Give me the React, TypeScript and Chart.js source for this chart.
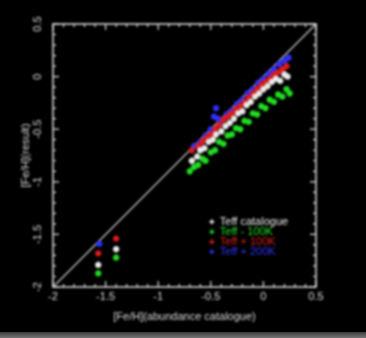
import React, { useEffect, useRef } from "react";
import { Chart, registerables } from "chart.js";

Chart.register(...registerables);

const axisTicks = [-2, -1.5, -1, -0.5, 0, 0.5];
const seriesLabels = ["Teff catalogue", "Teff - 100K", "Teff + 100K", "Teff + 200K"];
const seriesColors = ["#ececec", "#22dd22", "#dd1c1c", "#3030ff"];

const catalogueX = [-1.57, -1.40, -0.68, -0.63, -0.60, -0.56, -0.52, -0.48, -0.45, -0.40, -0.36, -0.32, -0.28, -0.24, -0.20, -0.16, -0.12, -0.08, -0.04, 0.00, 0.04, 0.08, 0.12, 0.16, 0.20, 0.23];
const catalogueY = [-1.79, -1.64, -0.80, -0.76, -0.70, -0.68, -0.62, -0.60, -0.55, -0.52, -0.47, -0.44, -0.40, -0.35, -0.33, -0.27, -0.24, -0.19, -0.16, -0.12, -0.09, -0.05, -0.02, -0.04, 0.02, 0.00];

const minus100X = [-1.57, -1.40, -0.70, -0.66, -0.62, -0.58, -0.55, -0.50, -0.46, -0.42, -0.38, -0.34, -0.30, -0.26, -0.22, -0.18, -0.14, -0.10, -0.06, -0.02, 0.02, 0.06, 0.10, 0.14, 0.18, 0.22, 0.25];
const minus100Y = [-1.87, -1.72, -0.90, -0.86, -0.84, -0.78, -0.80, -0.72, -0.70, -0.62, -0.64, -0.56, -0.55, -0.49, -0.50, -0.42, -0.43, -0.35, -0.36, -0.28, -0.30, -0.22, -0.24, -0.17, -0.19, -0.12, -0.16];

const plus100X = [-1.57, -1.40, -0.68, -0.62, -0.58, -0.54, -0.50, -0.46, -0.42, -0.38, -0.34, -0.30, -0.26, -0.22, -0.18, -0.14, -0.10, -0.06, -0.02, 0.02, 0.06, 0.10, 0.14, 0.18, 0.22];
const plus100Y = [-1.68, -1.54, -0.70, -0.66, -0.62, -0.58, -0.55, -0.50, -0.46, -0.41, -0.38, -0.35, -0.31, -0.28, -0.24, -0.20, -0.16, -0.12, -0.08, -0.05, -0.02, 0.02, 0.04, 0.07, 0.10];

const plus200X = [-1.56, -0.66, -0.60, -0.55, -0.50, -0.47, -0.45, -0.43, -0.40, -0.35, -0.30, -0.25, -0.20, -0.15, -0.10, -0.05, 0.00, 0.05, 0.10, 0.15, 0.20, 0.24];
const plus200Y = [-1.59, -0.66, -0.62, -0.56, -0.50, -0.38, -0.30, -0.40, -0.42, -0.36, -0.32, -0.26, -0.22, -0.16, -0.12, -0.06, -0.02, 0.03, 0.07, 0.12, 0.15, 0.18];

const diagonalX = [-2, 0.5];
const diagonalY = [-2, 0.5];

const FONT = "'Liberation Sans', Arial, sans-serif";
const toPoints = (xs: number[], ys: number[]) => xs.map((x, i) => ({ x, y: ys[i] }));

const framePlugin = {
  id: "frame",
  afterDraw(chart: any) {
    const { ctx, chartArea: a, scales } = chart;
    const xs = scales.x;
    const ys = scales.y;
    ctx.save();
    ctx.strokeStyle = "#dddddd";
    ctx.lineWidth = 1.5;
    ctx.strokeRect(a.left, a.top, a.right - a.left, a.bottom - a.top);
    ctx.lineWidth = 1.2;
    for (let i = 0; i <= 25; i++) {
      const v = -2 + i * 0.1;
      const major = i % 5 === 0;
      const len = major ? 6 : 3;
      const px = xs.getPixelForValue(v);
      const py = ys.getPixelForValue(v);
      ctx.beginPath();
      ctx.moveTo(px, a.bottom);
      ctx.lineTo(px, a.bottom - len);
      ctx.moveTo(px, a.top);
      ctx.lineTo(px, a.top + len);
      ctx.moveTo(a.left, py);
      ctx.lineTo(a.left + len, py);
      ctx.moveTo(a.right, py);
      ctx.lineTo(a.right - len, py);
      ctx.stroke();
    }
    ctx.font = "11px " + FONT;
    ctx.textBaseline = "middle";
    ctx.textAlign = "left";
    const lx = xs.getPixelForValue(-0.49);
    const ly0 = ys.getPixelForValue(-1.38);
    chart.data.datasets.slice(0, 4).forEach((ds: any, i: number) => {
      const y = ly0 + i * 10;
      ctx.strokeStyle = ds.borderColor;
      ctx.fillStyle = ds.borderColor;
      ctx.lineWidth = 1.5;
      ctx.beginPath();
      ctx.moveTo(lx - 2.5, y);
      ctx.lineTo(lx + 2.5, y);
      ctx.moveTo(lx, y - 2.5);
      ctx.lineTo(lx, y + 2.5);
      ctx.stroke();
      ctx.fillText(ds.label, lx + 8, y);
    });
    ctx.restore();
  },
};

export default function App() {
  const ref = useRef<HTMLCanvasElement | null>(null);
  useEffect(() => {
    if (!ref.current) return;
    const mk = (label: string, color: string, xs: number[], ys: number[]) => ({
      type: "scatter" as const,
      label,
      data: toPoints(xs, ys),
      borderColor: color,
      backgroundColor: color,
      pointStyle: "star",
      pointRadius: 3.2,
      pointBorderWidth: 1.8,
      showLine: false,
    });
    const tickFmt = (v: any) => String(Math.round(Number(v) * 10) / 10);
    const chart = new Chart(ref.current, {
      type: "scatter",
      data: {
        datasets: [
          mk(seriesLabels[0], seriesColors[0], catalogueX, catalogueY),
          mk(seriesLabels[1], seriesColors[1], minus100X, minus100Y),
          mk(seriesLabels[2], seriesColors[2], plus100X, plus100Y),
          mk(seriesLabels[3], seriesColors[3], plus200X, plus200Y),
          {
            type: "line" as const,
            label: "y = x",
            data: toPoints(diagonalX, diagonalY),
            borderColor: "#b8b8b8",
            borderWidth: 1.5,
            pointRadius: 0,
            showLine: true,
          } as any,
        ],
      },
      options: {
        animation: false,
        responsive: false,
        maintainAspectRatio: false,
        layout: { padding: { left: 0, right: 50, top: 24, bottom: 0 } },
        plugins: { legend: { display: false }, tooltip: { enabled: false } },
        scales: {
          x: {
            type: "linear",
            min: -2,
            max: 0.5,
            grid: { display: false, drawTicks: false },
            border: { display: false },
            afterBuildTicks: (s: any) => {
              s.ticks = axisTicks.map((v) => ({ value: v }));
            },
            afterFit: (s: any) => {
              s.height = 51;
            },
            ticks: {
              color: "#dddddd",
              padding: 3,
              maxRotation: 0,
              callback: tickFmt,
              font: { family: FONT, size: 11 },
            },
            title: {
              display: true,
              text: "[Fe/H](abundance catalogue)",
              color: "#dddddd",
              font: { family: FONT, size: 11 },
              padding: { top: 0, bottom: 14 },
            },
          },
          y: {
            type: "linear",
            min: -2,
            max: 0.5,
            grid: { display: false, drawTicks: false },
            border: { display: false },
            afterBuildTicks: (s: any) => {
              s.ticks = axisTicks.map((v) => ({ value: v }));
            },
            afterFit: (s: any) => {
              s.width = 53;
            },
            ticks: {
              color: "#dddddd",
              padding: 6,
              minRotation: 90,
              maxRotation: 90,
              crossAlign: "center",
              callback: tickFmt,
              font: { family: FONT, size: 11 },
            },
            title: {
              display: true,
              text: "[Fe/H](result)",
              color: "#dddddd",
              font: { family: FONT, size: 11 },
              padding: { top: 19, bottom: 0 },
            },
          },
        },
      },
      plugins: [framePlugin],
    } as any);
    return () => chart.destroy();
  }, []);

  return (
    <div style={{ position: "fixed", left: 0, top: 0, width: 366, height: 338, background: "#000", overflow: "hidden" }}>
      <canvas ref={ref} width={366} height={338} style={{ display: "block", filter: "blur(0.9px)" }} />
      <div style={{ position: "absolute", left: 0, top: 332, width: 366, height: 6, background: "linear-gradient(#3a3a3a, #777)" }} />
    </div>
  );
}
